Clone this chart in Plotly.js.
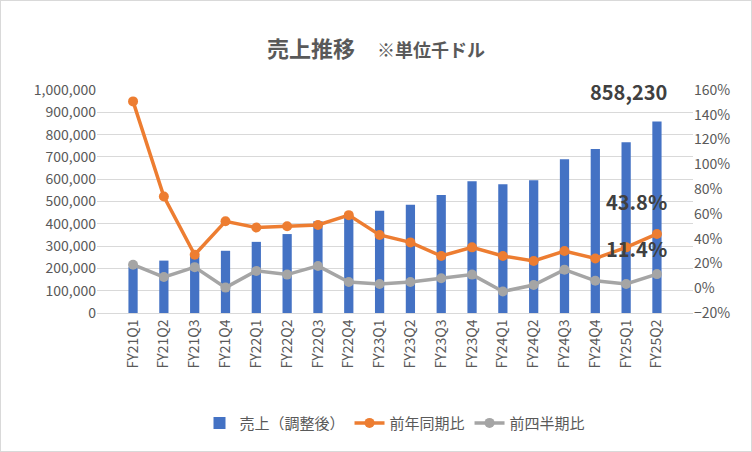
<!DOCTYPE html>
<html><head><meta charset="utf-8">
<script src="https://cdn.plot.ly/plotly-3.0.1.min.js"></script>
<style>body{margin:0}#chart{width:750px;height:450px;border:1px solid #d9d9d9}</style>
</head><body><div id="chart"></div>
<script>
var quarters = ["FY21Q1","FY21Q2","FY21Q3","FY21Q4","FY22Q1","FY22Q2","FY22Q3","FY22Q4","FY23Q1","FY23Q2","FY23Q3","FY23Q4","FY24Q1","FY24Q2","FY24Q3","FY24Q4","FY25Q1","FY25Q2"];
var sales = [206000,235000,255000,279000,319000,354000,411000,433000,459000,485000,529000,591000,577000,595000,689000,735000,766000,858230];
var yoy = [150.8,74,27,54,49,50,51,59,43,37,26,33,26,22,30,24,33,43.8];
var qoq = [19,9,17,0.5,14,11,18,5,3.4,5,8,11,-2.6,2.6,15,6,3.4,11.4];
var font = "Noto Sans CJK JP, sans-serif";
var last = quarters.length - 1;

var data = [
  {type:"bar", name:"売上（調整後）", x:quarters, y:sales, marker:{color:"#4472C4"}, width:0.3},
  {type:"scatter", mode:"lines+markers", name:"前年同期比", x:quarters, y:yoy, yaxis:"y2",
   line:{color:"#ED7D31", width:3.5}, marker:{size:10, color:"#ED7D31"}},
  {type:"scatter", mode:"lines+markers", name:"前四半期比", x:quarters, y:qoq, yaxis:"y2",
   line:{color:"#A5A5A5", width:3.5}, marker:{size:10, color:"#A5A5A5"}}
];

var layout = {
  width:750, height:450,
  margin:{l:96, r:58, t:89, b:131},
  paper_bgcolor:"white", plot_bgcolor:"white",
  font:{family:font, color:"#595959", size:14},
  title:{text:"<b>売上推移　<span style='font-size:18px'>※単位千ドル</span></b>", x:0.5, y:0.91, font:{size:22, color:"#595959"}},
  xaxis:{tickangle:-90, showgrid:false, showline:true, linecolor:"#d9d9d9", tickfont:{size:14}},
  yaxis:{range:[0,1000000], dtick:100000, tickformat:",d", gridcolor:"#d9d9d9", zeroline:false},
  yaxis2:{overlaying:"y", side:"right", range:[-20,160], dtick:20, ticksuffix:"%", showgrid:false, zeroline:false},
  legend:{orientation:"h", x:0.5, xanchor:"center", y:-0.42, font:{size:15}},
  annotations:[
    {x:quarters[last], y:sales[last], text:"<b>858,230</b>", showarrow:false, yshift:30, xshift:-28, font:{size:20, color:"#404040"}},
    {x:quarters[last], y:yoy[last], yref:"y2", text:"<b>43.8%</b>", showarrow:false, yshift:32, xshift:-20, font:{size:20, color:"#404040"}},
    {x:quarters[last], y:qoq[last], yref:"y2", text:"<b>11.4%</b>", showarrow:false, yshift:26, xshift:-20, font:{size:20, color:"#404040"}}
  ],
  showlegend:true
};
Plotly.newPlot("chart", data, layout, {displayModeBar:false});
</script></body></html>
